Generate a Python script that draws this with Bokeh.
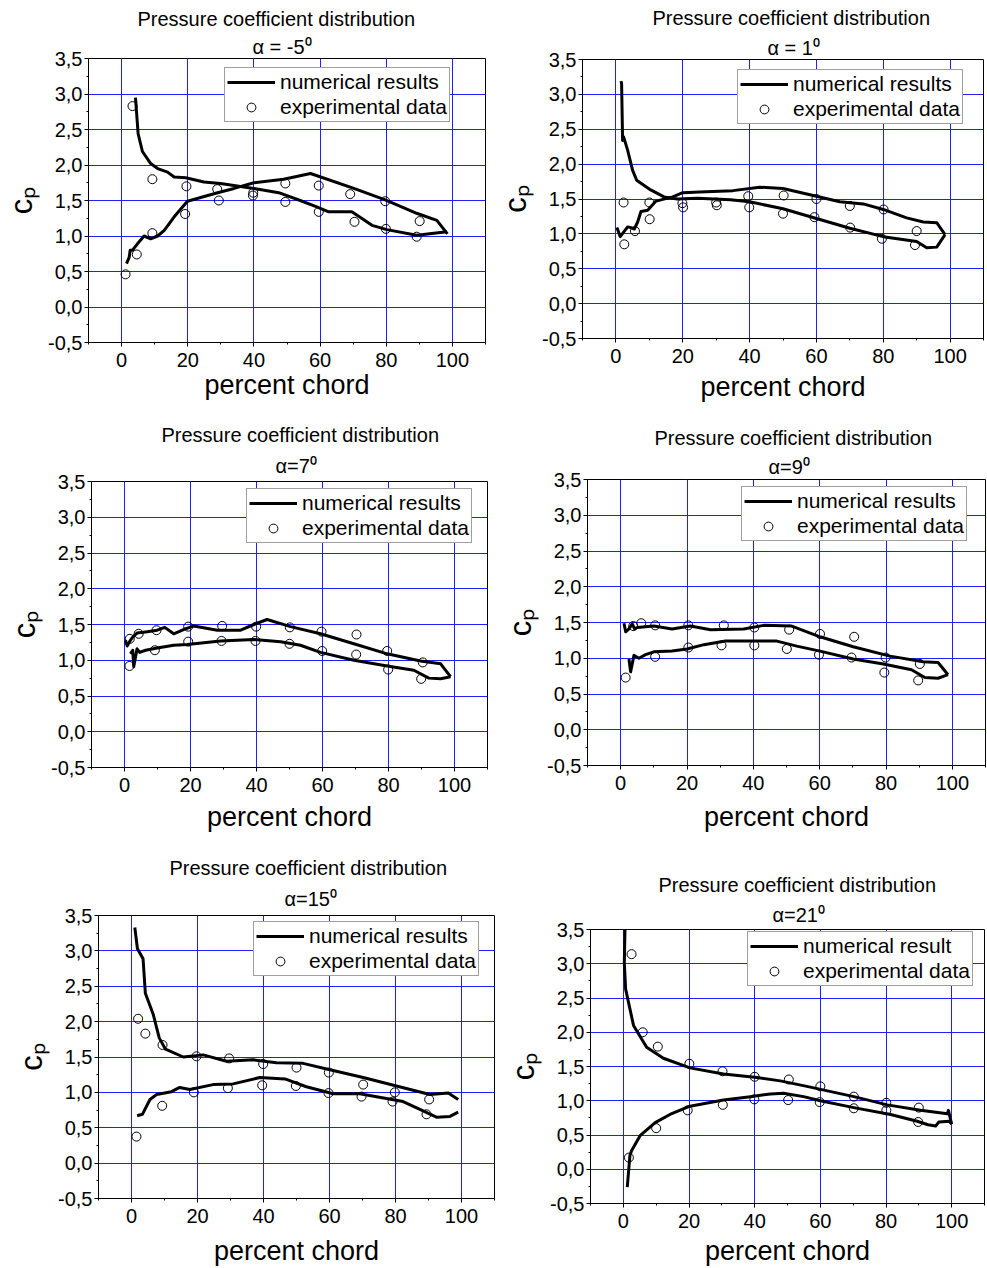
from bokeh.plotting import figure
from bokeh.layouts import column, row
from bokeh.models import (FixedTicker, CustomJSTickFormatter, Legend, LegendItem,
                          Title, Range1d)
from bokeh.embed import file_html
from bokeh.resources import INLINE

FONT = "Liberation Sans"

# ---------------------------------------------------------------- data
# x in percent chord, cp values; each numerical curve is split into the two
# airfoil surfaces ("a" starts at the leading-edge peak, "b" is the other one)

# alpha = -5
num_a_x_m5 = [4.2, 5.0, 6.3, 8.8, 10.9, 13.9, 15.9, 19.4, 24.9, 29.9, 40.0, 47.5,
              54.0, 59.0, 62.6, 69.6, 75.7, 80.2, 89.2, 98.3]
num_a_cp_m5 = [2.95, 2.44, 2.19, 2.02, 1.95, 1.90, 1.83, 1.82, 1.76, 1.74, 1.67, 1.61,
               1.50, 1.41, 1.34, 1.34, 1.15, 1.09, 1.01, 1.06]
num_b_x_m5 = [98.5, 95.3, 89.2, 79.7, 70.2, 57.1, 49.0, 40.0, 34.0, 29.0, 19.9, 15.9,
              12.9, 10.9, 8.8, 6.8, 4.8, 3.3, 2.6, 2.3, 1.5]
num_b_cp_m5 = [1.03, 1.22, 1.32, 1.51, 1.67, 1.88, 1.80, 1.75, 1.67, 1.61, 1.49, 1.27,
               1.08, 1.00, 0.96, 1.00, 0.89, 0.80, 0.80, 0.70, 0.61]
exp_x_m5 = [1.2, 3.3, 4.6, 9.3, 9.3, 19.2, 19.6, 28.9, 29.4, 39.7, 39.8, 49.5, 49.5,
            59.6, 59.6, 69.1, 70.4, 79.7, 79.9, 89.2, 90.1]
exp_cp_m5 = [0.46, 2.83, 0.74, 1.80, 1.04, 1.31, 1.70, 1.66, 1.50, 1.57, 1.61, 1.74, 1.48,
             1.71, 1.34, 1.59, 1.20, 1.49, 1.10, 0.99, 1.21]

# alpha = 1
num_a_x_1 = [1.5, 1.7, 2.0, 2.3, 3.5, 5.0, 6.2, 10.4, 14.4, 18.4, 24.4, 34.3, 40.0,
             50.0, 60.0, 70.0, 80.0, 90.0, 93.0, 96.0, 98.5]
num_a_cp_1 = [3.19, 3.16, 2.34, 2.39, 2.20, 1.91, 1.77, 1.63, 1.53, 1.50, 1.51, 1.49, 1.46,
              1.36, 1.22, 1.08, 0.96, 0.89, 0.80, 0.81, 0.99]
num_b_x_1 = [98.5, 96.0, 92.0, 87.0, 80.0, 74.0, 67.0, 60.0, 50.0, 43.0, 35.0, 25.0,
             20.0, 17.0, 12.0, 9.5, 7.5, 6.5, 5.5, 4.5, 3.5, 1.3, 0.3]
num_b_cp_1 = [0.99, 1.16, 1.17, 1.23, 1.35, 1.43, 1.46, 1.54, 1.65, 1.67, 1.62, 1.60,
              1.59, 1.53, 1.47, 1.34, 1.32, 1.17, 1.07, 1.09, 1.10, 0.96, 1.09]
exp_x_1 = [2.3, 2.5, 5.7, 10.0, 10.1, 19.9, 20.1, 30.0, 30.2, 39.6, 39.9, 50.2, 50.0,
           60.0, 59.4, 70.0, 70.1, 80.1, 79.6, 90.0, 89.5]
exp_cp_1 = [1.45, 0.85, 1.04, 1.45, 1.21, 1.44, 1.38, 1.45, 1.41, 1.54, 1.38, 1.55, 1.29,
            1.50, 1.24, 1.40, 1.09, 1.35, 0.93, 1.04, 0.84]

# alpha = 7
num_a_x_7 = [0.3, 0.8, 1.8, 2.6, 3.8, 6.9, 9.9, 12.2, 14.9, 17.9, 21.0, 28.1, 35.2,
             39.2, 43.2, 50.3, 59.4, 69.5, 79.6, 89.7, 95.8, 98.8]
num_a_cp_7 = [1.28, 1.20, 1.28, 1.33, 1.38, 1.40, 1.42, 1.46, 1.37, 1.43, 1.48, 1.42, 1.42,
              1.50, 1.57, 1.47, 1.37, 1.23, 1.09, 0.99, 0.95, 0.77]
num_b_x_7 = [98.8, 95.8, 92.2, 87.7, 79.6, 69.5, 59.4, 53.3, 47.3, 39.2, 29.1, 19.0,
             14.9, 9.9, 6.4, 4.6, 3.8, 2.8, 2.5, 1.8]
num_b_cp_7 = [0.77, 0.74, 0.75, 0.86, 0.92, 1.00, 1.11, 1.21, 1.26, 1.29, 1.27, 1.22,
              1.21, 1.17, 1.14, 1.11, 1.16, 0.91, 1.14, 1.09]
exp_x_7 = [1.5, 1.6, 4.3, 9.7, 9.2, 19.3, 19.3, 29.6, 29.4, 39.9, 39.7, 50.1, 50.0,
           59.7, 59.9, 70.3, 70.2, 79.6, 79.9, 90.4, 89.9]
exp_cp_7 = [0.92, 1.30, 1.37, 1.42, 1.14, 1.47, 1.26, 1.48, 1.27, 1.47, 1.27, 1.46, 1.23,
            1.40, 1.13, 1.36, 1.08, 1.13, 0.87, 0.97, 0.74]

# alpha = 9
num_a_x_9 = [1.0, 1.5, 2.5, 3.5, 4.2, 5.0, 10.0, 15.5, 21.0, 27.1, 37.1, 43.1, 51.6,
             60.1, 70.1, 81.2, 91.2, 95.7, 98.7]
num_a_cp_9 = [1.49, 1.37, 1.41, 1.48, 1.41, 1.43, 1.45, 1.41, 1.45, 1.40, 1.41, 1.46, 1.45,
              1.30, 1.16, 1.03, 0.95, 0.94, 0.77]
num_b_x_9 = [98.7, 95.7, 91.7, 87.7, 79.2, 70.1, 60.1, 53.1, 47.1, 37.1, 31.6, 25.1,
             20.0, 15.5, 10.0, 7.5, 5.5, 4.0, 3.0, 2.5]
num_b_cp_9 = [0.77, 0.72, 0.73, 0.84, 0.92, 0.99, 1.10, 1.17, 1.24, 1.24, 1.24, 1.19,
              1.13, 1.10, 1.09, 1.05, 1.00, 1.04, 0.81, 0.99]
exp_x_9 = [1.5, 3.8, 6.2, 10.4, 10.4, 20.4, 20.4, 31.1, 30.4, 40.3, 40.3, 50.8, 50.1,
           60.1, 59.8, 70.4, 69.6, 79.9, 79.5, 90.2, 89.7]
exp_cp_9 = [0.73, 1.45, 1.49, 1.46, 1.02, 1.46, 1.15, 1.46, 1.18, 1.43, 1.18, 1.40, 1.13,
            1.34, 1.05, 1.30, 1.01, 1.01, 0.80, 0.92, 0.69]

# alpha = 15
num_a_x_15 = [1.0, 1.8, 3.5, 4.2, 6.6, 8.4, 10.3, 15.7, 21.7, 28.8, 36.9, 43.9, 52.0,
              60.1, 70.2, 80.3, 90.4, 96.0, 99.0]
num_a_cp_15 = [3.33, 3.03, 2.89, 2.40, 2.10, 1.77, 1.61, 1.50, 1.53, 1.44, 1.46, 1.42, 1.41,
               1.32, 1.21, 1.09, 0.97, 0.99, 0.90]
num_b_x_15 = [1.7, 3.3, 5.6, 7.6, 12.1, 14.6, 17.7, 24.7, 30.8, 38.9, 46.5, 53.0, 61.1,
              69.2, 82.3, 87.4, 92.4, 96.5, 99.0]
num_b_cp_15 = [0.67, 0.69, 0.90, 0.97, 1.01, 1.07, 1.04, 1.11, 1.12, 1.21, 1.19, 1.08, 0.98,
               0.98, 0.87, 0.76, 0.65, 0.66, 0.72]
exp_x_15 = [1.5, 2.0, 4.2, 9.4, 9.3, 19.7, 18.9, 29.6, 29.2, 39.9, 39.6, 50.0, 49.8,
            59.8, 59.7, 70.2, 69.7, 79.8, 79.1, 90.2, 89.4]
exp_cp_15 = [0.375, 2.04, 1.83, 1.67, 0.81, 1.51, 1.00, 1.48, 1.06, 1.40, 1.10, 1.35, 1.09,
             1.28, 0.99, 1.11, 0.94, 1.00, 0.87, 0.90, 0.69]

# alpha = 21
num_a_x_21 = [0.5, 0.3, 0.7, 3.1, 7.1, 12.2, 20.3, 30.5, 40.7, 47.8, 55.9, 70.2, 80.4,
              90.5, 98.7, 99.0, 100.0]
num_a_cp_21 = [3.50, 3.01, 2.63, 2.10, 1.78, 1.62, 1.48, 1.39, 1.34, 1.29, 1.21, 1.06, 0.94,
               0.86, 0.81, 0.86, 0.66]
num_b_x_21 = [100.0, 99.2, 96.1, 95.1, 92.8, 89.5, 81.4, 70.2, 60.0, 54.9, 48.8, 44.8,
              38.7, 30.5, 20.3, 14.2, 9.7, 5.1, 2.5, 2.0, 1.2]
num_b_cp_21 = [0.66, 0.70, 0.69, 0.63, 0.65, 0.70, 0.80, 0.90, 1.00, 1.06, 1.11, 1.10,
               1.06, 1.01, 0.92, 0.80, 0.68, 0.49, 0.27, 0.20, -0.26]
exp_x_21 = [2.5, 5.9, 10.5, 20.1, 30.2, 40.0, 50.4, 60.0, 70.2, 80.1, 90.0,
            1.7, 10.0, 19.6, 30.3, 39.9, 50.2, 59.8, 70.2, 80.1, 89.8]
exp_cp_21 = [3.14, 2.00, 1.79, 1.54, 1.43, 1.35, 1.31, 1.21, 1.06, 0.97, 0.90,
             0.17, 0.60, 0.86, 0.94, 1.02, 1.01, 0.98, 0.89, 0.86, 0.69]

x_major = [0, 20, 40, 60, 80, 100]
x_minor = [-10, 10, 30, 50, 70, 90, 110]
y_major = [-0.5, 0.0, 0.5, 1.0, 1.5, 2.0, 2.5, 3.0, 3.5]
y_minor = [-0.25, 0.25, 0.75, 1.25, 1.75, 2.25, 2.75, 3.25]
y_grid = [0.0, 0.5, 1.0, 1.5, 2.0, 2.5, 3.0]

GRID_BLUE = "#1f1fff"


def panel(alpha_text, a_x, a_cp, b_x, b_cp, e_x, e_cp, num_label,
          size, borders, legend_at, title_off, alpha_off, standoffs, xlabel_gap):
    w, h = size
    bl, br, bt, bb = borders
    p = figure(width=w, height=h, output_backend="svg", toolbar_location=None,
               x_range=Range1d(-10, 110), y_range=Range1d(-0.5, 3.5),
               title_location=None,
               min_border_left=bl, min_border_right=br,
               min_border_top=bt, min_border_bottom=bb)
    p.background_fill_color = "white"
    p.border_fill_color = "white"
    p.outline_line_color = "black"
    p.outline_line_width = 1

    # grid
    p.xgrid.ticker = FixedTicker(ticks=x_major)
    p.ygrid.ticker = FixedTicker(ticks=y_grid)
    for g in (p.xgrid, p.ygrid):
        g.grid_line_color = GRID_BLUE
        g.grid_line_width = 1

    # axes
    p.xaxis.ticker = FixedTicker(ticks=x_major, minor_ticks=x_minor)
    p.yaxis.ticker = FixedTicker(ticks=y_major, minor_ticks=y_minor)
    p.yaxis.formatter = CustomJSTickFormatter(
        code="return tick.toFixed(1).replace('.', ',');")
    for ax in (p.xaxis, p.yaxis):
        ax.axis_line_color = "black"
        ax.axis_line_width = 1
        ax.major_tick_line_color = "black"
        ax.minor_tick_line_color = "black"
        ax.major_tick_in = 0
        ax.major_tick_out = 4
        ax.minor_tick_in = 0
        ax.minor_tick_out = 2
        ax.major_label_text_font = FONT
        ax.major_label_text_font_size = "20px"
        ax.major_label_text_color = "black"
        ax.axis_label_text_font = FONT
        ax.axis_label_text_font_style = "normal"
        ax.axis_label_text_color = "black"
    p.xaxis.major_label_standoff = 6
    p.yaxis.major_label_standoff = 2
    p.xaxis.axis_label = "percent chord"
    p.xaxis.axis_label_text_font_size = "27px"
    p.xaxis.axis_label_standoff = xlabel_gap
    p.yaxis.axis_label = "c\u209a"
    p.yaxis.axis_label_text_font_size = "31px"
    p.yaxis.axis_label_standoff = 6

    # titles (inner line first, it sits next to the frame)
    s_alpha, s_main = standoffs
    p.add_layout(Title(text=alpha_text, text_font=FONT, text_font_size="20px",
                       text_font_style="normal", text_color="black",
                       align="left", offset=alpha_off, standoff=s_alpha), "above")
    p.add_layout(Title(text="Pressure coefficient distribution", text_font=FONT,
                       text_font_size="20px", text_font_style="normal",
                       text_color="black", align="left", offset=title_off,
                       standoff=s_main), "above")

    # data
    la = p.line(a_x, a_cp, line_color="black", line_width=3, line_join="round")
    p.line(b_x, b_cp, line_color="black", line_width=3, line_join="round")
    ex = p.scatter(e_x, e_cp, marker="circle", size=9, fill_color=None,
                   line_color="black", line_width=1)

    legend = Legend(items=[LegendItem(label=num_label, renderers=[la]),
                           LegendItem(label="experimental data", renderers=[ex])],
                    location=legend_at, padding=2, spacing=1, margin=0,
                    glyph_width=48, glyph_height=22, label_height=22,
                    label_standoff=5, label_text_font=FONT,
                    label_text_font_size="21px", label_text_color="black",
                    border_line_color="#404040", border_line_width=1.5,
                    background_fill_color="white", background_fill_alpha=1.0)
    p.add_layout(legend, "center")
    return p


p1 = panel("\u03b1 = -5\u2070", num_a_x_m5, num_a_cp_m5, num_b_x_m5, num_b_cp_m5,
           exp_x_m5, exp_cp_m5, "numerical results",
           (490, 410), (88, 5, 58, 68), (136, 220), 49, 164, (1, 8), 0)
p2 = panel("\u03b1 = 1\u2070", num_a_x_1, num_a_cp_1, num_b_x_1, num_b_cp_1,
           exp_x_1, exp_cp_1, "numerical results",
           (497, 410), (92, 4, 59, 72), (155, 214), 70, 185, (2, 9), 6)
p3 = panel("\u03b1=7\u2070", num_a_x_7, num_a_cp_7, num_b_x_7, num_b_cp_7,
           exp_x_7, exp_cp_7, "numerical results",
           (490, 435), (91, 3, 71, 78), (155, 224), 70, 184, (10, 4), 7)
p4 = panel("\u03b1=9\u2070", num_a_x_9, num_a_cp_9, num_b_x_9, num_b_cp_9,
           exp_x_9, exp_cp_9, "numerical results",
           (497, 435), (97, 2, 69, 80), (154, 224), 67, 181, (3, 8), 9)
p5 = panel("\u03b1=15\u2070", num_a_x_15, num_a_cp_15, num_b_x_15, num_b_cp_15,
           exp_x_15, exp_cp_15, "numerical results",
           (495, 423), (98, 1, 70, 68), (155, 222), 71, 186, (11, 3), 10)
p6 = panel("\u03b1=21\u2070", num_a_x_21, num_a_cp_21, num_b_x_21, num_b_cp_21,
           exp_x_21, exp_cp_21, "numerical result",
           (492, 423), (95, 3, 84, 61), (157, 217), 68, 182, (8, 4), 5)

# each plot sits in its own column so that the frames keep their own offsets
layout = column(row(column(p1), column(p2)),
                row(column(p3), column(p4)),
                row(column(p5), column(p6)))

with open("out.html", "w") as f:
    f.write(file_html(layout, INLINE))
